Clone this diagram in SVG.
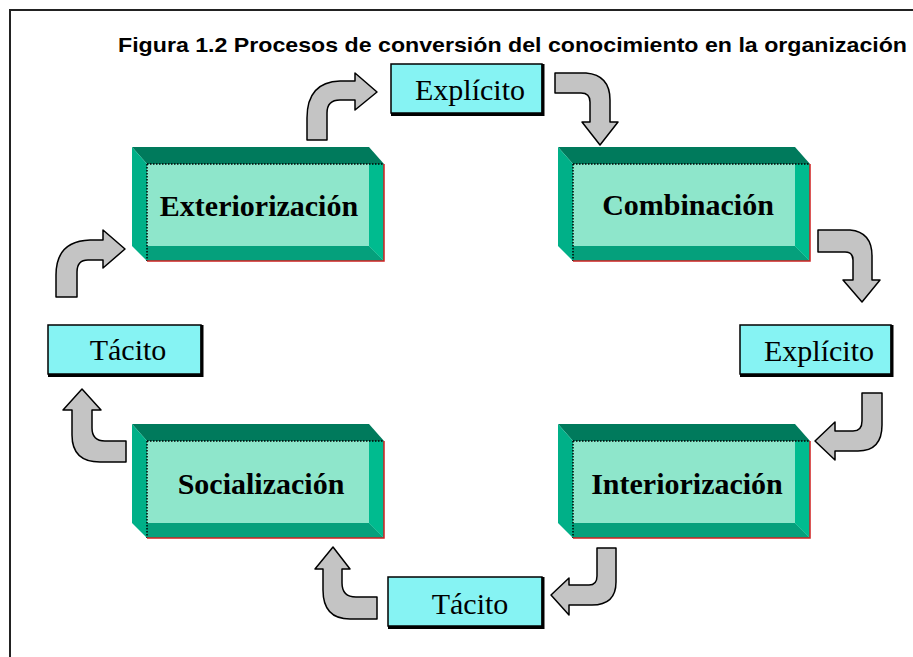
<svg xmlns="http://www.w3.org/2000/svg" xmlns:xlink="http://www.w3.org/1999/xlink" width="913" height="657" viewBox="0 0 913 657">
<style>
.frame{fill:none;stroke:#222;stroke-width:2}
.title{font-family:"Liberation Sans",Arial,sans-serif;font-weight:bold;font-size:21px;fill:#000}
.btxt{font-family:"Liberation Serif","Times New Roman",serif;font-weight:bold;font-size:30px;fill:#000;text-anchor:middle}
.ltxt{font-family:"Liberation Serif","Times New Roman",serif;font-size:30px;fill:#000;text-anchor:middle}
.lbl{fill:#86f3f3;stroke:#000;stroke-width:1.5}
.shadow{fill:none;stroke:#000;stroke-width:3}
.arrow{fill:#c4c4c4;stroke:#000;stroke-width:1.5;stroke-linejoin:round}
</style>
<defs>
<g id="box3d">
<polygon points="0,0 237,0 252,17 15,17" fill="#007a5c"/>
<polygon points="0,0 15,17 15,114 0,99" fill="#00b088"/>
<rect x="15" y="17" width="237" height="97" fill="#8ee6cb"/>
<polygon points="15,99 237,99 252,114 15,114" fill="#05a07c"/>
<polygon points="237,17 252,17 252,114 237,99" fill="#00bb8f"/>
<path d="M15,17 H252 M15,17 V114" fill="none" stroke="#000" stroke-width="1.5" stroke-dasharray="1.5,1.5"/>
<path d="M252,17 V114 H15" fill="none" stroke="#d02020" stroke-width="1.5"/>
</g>
</defs>
<rect x="0" y="0" width="913" height="657" fill="#fff"/>
<path class="frame" d="M10,657 V10 H913"/>
<text class="title" x="118" y="52" textLength="789" lengthAdjust="spacingAndGlyphs">Figura 1.2 Procesos de conversión del conocimiento en la organización</text>

<g id="connectors">
<path class="arrow" d="M307,140 L307,118 Q307,82 340,81 L355,81 L355,73 L377,92 L355,110 L355,100 L340,100 Q327,100 327,113 L327,140 Z"/>
<path class="arrow" d="M555,73 L586,73 Q610,75 610,100 L610,122 L618,122 L600,145 L582,122 L590,122 L590,102 Q590,93 581,93 L555,93 Z"/>
<path class="arrow" d="M818,230 L850,230 Q872,232 872,256 L872,280 L880,280 L862,302 L843,280 L853,280 L853,260 Q853,252 845,252 L818,252 Z"/>
<path class="arrow" d="M862,393 L882,393 L882,425 Q882,451 858,451 L835,451 L835,460 L815,441 L835,422 L835,431 L853,431 Q862,431 862,421 Z"/>
<path class="arrow" d="M597,548 L616,548 L616,582 Q616,605 592,605 L569,605 L569,615 L551,595 L569,578 L569,585 L589,585 Q597,585 597,576 Z"/>
<path class="arrow" d="M377,597 L356,597 Q342,597 342,583 L342,569 L350,569 L333,547 L315,569 L323,569 L323,590 Q323,619 350,619 L377,619 Z"/>
<path class="arrow" d="M126,441 L105,441 Q92,441 92,428 L92,410 L101,410 L82,389 L63,410 L72,410 L72,435 Q72,462 100,462 L126,462 Z"/>
<path class="arrow" d="M56,297 L56,275 Q56,241 90,240 L103,240 L103,230 L125,249 L103,268 L103,260 L88,260 Q77,260 77,272 L77,297 Z"/>
</g>

<g id="exteriorizacion">
<use xlink:href="#box3d" x="132" y="147"/>
<text class="btxt" x="259" y="216">Exteriorización</text>
</g>
<g id="combinacion">
<use xlink:href="#box3d" x="558" y="147"/>
<text class="btxt" x="688" y="215">Combinación</text>
</g>
<g id="socializacion">
<use xlink:href="#box3d" x="132" y="424"/>
<text class="btxt" x="261" y="494">Socialización</text>
</g>
<g id="interiorizacion">
<use xlink:href="#box3d" x="558" y="424"/>
<text class="btxt" x="687" y="494">Interiorización</text>
</g>

<g id="explicito-top">
<rect class="lbl" x="391" y="64" width="151" height="49"/>
<path class="shadow" d="M543,64 V114.5 H391"/>
<text class="ltxt" x="470" y="100">Explícito</text>
</g>
<g id="explicito-right">
<rect class="lbl" x="740" y="325" width="151" height="49"/>
<path class="shadow" d="M892,325 V375.5 H740"/>
<text class="ltxt" x="819" y="361">Explícito</text>
</g>
<g id="tacito-left">
<rect class="lbl" x="48" y="325" width="153" height="49"/>
<path class="shadow" d="M202,325 V375.5 H48"/>
<text class="ltxt" x="128" y="360">Tácito</text>
</g>
<g id="tacito-bottom">
<rect class="lbl" x="388" y="577" width="154" height="49"/>
<path class="shadow" d="M543,577 V627.5 H388"/>
<text class="ltxt" x="470" y="614">Tácito</text>
</g>
</svg>
